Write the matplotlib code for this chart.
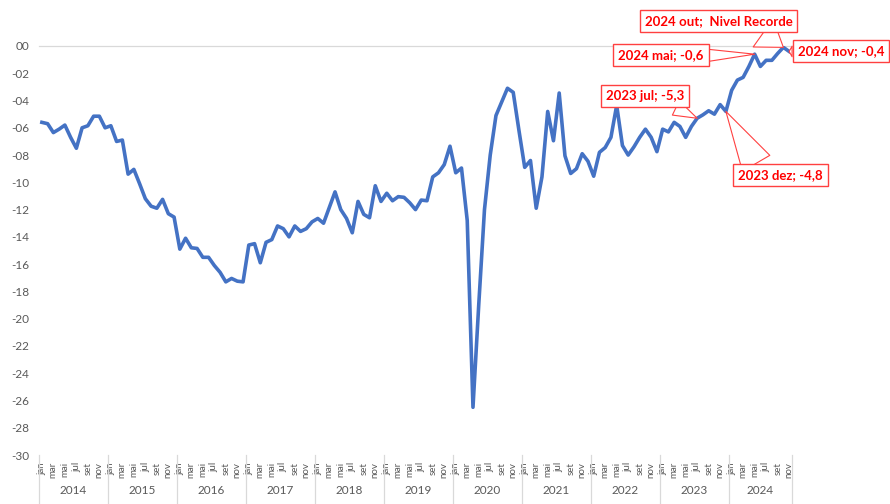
import numpy as np
from matplotlib import pyplot as plt

# mensal, jan 2014 .. nov 2024
years = ['2014', '2015', '2016', '2017', '2018', '2019', '2020', '2021', '2022', '2023', '2024']
months = ['jan', 'fev', 'mar', 'abr', 'mai', 'jun', 'jul', 'ago', 'set', 'out', 'nov', 'dez']

values = [
    -5.6, -5.7, -6.35, -6.1, -5.8, -6.7, -7.5, -6.0, -5.85, -5.15, -5.15, -6.0,          # 2014
    -5.85, -7.0, -6.9, -9.4, -9.05, -10.1, -11.2, -11.75, -11.9, -11.25, -12.3, -12.55,  # 2015
    -14.9, -14.1, -14.8, -14.85, -15.5, -15.5, -16.1, -16.6, -17.3, -17.05, -17.25, -17.3,  # 2016
    -14.6, -14.5, -15.9, -14.4, -14.2, -13.2, -13.4, -14.0, -13.2, -13.6, -13.4, -12.9,  # 2017
    -12.65, -13.0, -11.85, -10.7, -12.0, -12.65, -13.7, -11.4, -12.35, -12.6, -10.25, -11.4,  # 2018
    -10.8, -11.35, -11.05, -11.1, -11.5, -12.0, -11.3, -11.35, -9.6, -9.3, -8.7, -7.35,  # 2019
    -9.3, -8.95, -12.8, -26.5, -19.0, -12.0, -8.0, -5.1, -4.1, -3.1, -3.4, -6.2,         # 2020
    -8.9, -8.4, -11.9, -9.6, -4.8, -6.95, -3.45, -8.05, -9.35, -9.0, -7.9, -8.45,        # 2021
    -9.55, -7.8, -7.45, -6.7, -4.35, -7.3, -8.0, -7.4, -6.7, -6.1, -6.7, -7.75,          # 2022
    -6.1, -6.3, -5.6, -5.9, -6.7, -5.9, -5.3, -5.05, -4.75, -5.0, -4.3, -4.8,            # 2023
    -3.25, -2.5, -2.3, -1.5, -0.6, -1.5, -1.05, -1.05, -0.55, -0.1, -0.4,                # 2024
]

# destaques (indice do mes, texto)
callout_idx = [114, 119, 124, 129, 130]
callout_txt = ['2023 jul; -5,3', '2023 dez; -4,8', '2024 mai; -0,6',
               '2024 out;  Nivel Recorde', '2024 nov; -0,4']

# posicao das caixas (x em meses, y em valor), canto de saida da cunha, largura da cunha
box_pos = [(104.9, -3.7), (128.5, -9.45), (107.7, -0.65), (117.7, 1.8), (139.0, -0.4)]
box_rel = [(0.75, 0.0), (0.25, 1.0), (1.0, 0.45), (0.75, 0.0), (0.0, 0.5)]
wedge_w = [1.2, 2.4, 0.9, 2.6, 0.8]

plt.rcParams['font.family'] = ['Lato', 'DejaVu Sans']
grey = '#595959'

n = len(values)
x = np.arange(n)

fig = plt.figure(figsize=(8.9, 5.04), dpi=100)
ax = fig.add_axes([39 / 890, 49 / 504, 753 / 890, 409 / 504])

ax.plot(x, values, color='#4472C4', lw=2.6, solid_joinstyle='round', zorder=3)

ax.set_xlim(-0.5, n - 0.5)
ax.set_ylim(-30, 0)
ax.axhline(0, color='#d9d9d9', lw=0.9, clip_on=False, zorder=1)

yt = np.arange(-30, 1, 2)
ax.set_yticks(yt)
ax.set_yticklabels(['00' if v == 0 else '-%02d' % abs(v) for v in yt])
ax.tick_params(axis='y', length=0, labelsize=8.5, labelcolor=grey, pad=7)

xt = np.arange(0, n, 2)
ax.set_xticks(xt)
ax.set_xticklabels([months[i % 12] for i in xt], rotation=90, va='top')
ax.tick_params(axis='x', length=0, labelsize=7, labelcolor=grey, pad=5)

for s in ax.spines.values():
    s.set_visible(False)

# separadores dos anos e rotulos
tr = ax.get_xaxis_transform()
bounds = list(np.arange(-0.5, n, 12)) + [n - 0.5]
for b in bounds:
    ax.plot([b, b], [0, -0.12], color='#d9d9d9', lw=0.9, transform=tr, clip_on=False)
for k, yr in enumerate(years):
    lo = bounds[k]
    hi = bounds[k + 1]
    ax.text((lo + hi) / 2, -0.087, yr, transform=tr, ha='center', va='center',
            fontsize=8.5, color=grey)

for i, txt, pos, rel, w in zip(callout_idx, callout_txt, box_pos, box_rel, wedge_w):
    ax.annotate(txt, xy=(i, values[i]), xytext=pos, textcoords='data',
                ha='center', va='center', fontsize=9.5, fontweight='bold', color='#FF0000',
                bbox=dict(boxstyle='square,pad=0.38', fc='white', ec='#FF4040', lw=1),
                arrowprops=dict(arrowstyle='wedge,tail_width=%s,shrink_factor=0.5' % w,
                                fc='white', ec='#FF4040', lw=0.8, relpos=rel,
                                shrinkA=0, shrinkB=0),
                annotation_clip=False, zorder=5)

fig.savefig('out.png', dpi=100, facecolor='white')
